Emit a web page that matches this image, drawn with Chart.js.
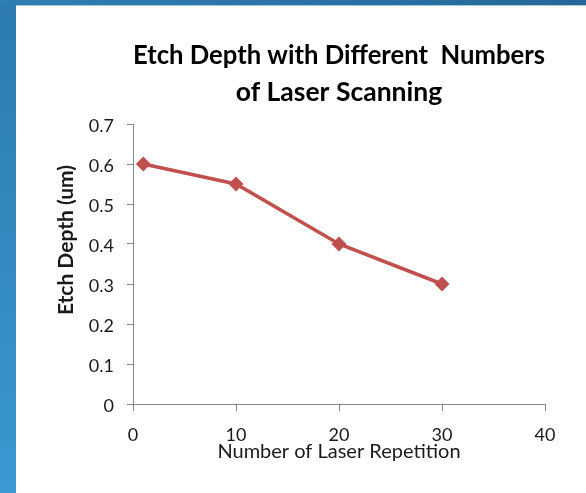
<!DOCTYPE html>
<html>
<head>
<meta charset="utf-8">
<script src="https://cdn.jsdelivr.net/npm/chart.js@4/dist/chart.umd.min.js"></script>
<style>
  html, body { margin: 0; padding: 0; }
  body {
    width: 586px; height: 493px; overflow: hidden; position: relative;
    background: linear-gradient(to bottom, #2d7bb0, #3b98d0);
  }
  #topband {
    position: absolute; left: 0; top: 0; width: 586px; height: 5px;
    background: linear-gradient(to right, #2f7fb3, #24679a);
  }
  #panel {
    position: absolute; left: 16px; top: 5px; right: 0; bottom: 0;
    background: #fff; border-top: 1px solid #a9c8de;
  }
  #myChart { position: absolute; left: 0; top: 0; }
</style>
</head>
<body>
<div id="topband"></div>
<div id="panel"></div>
<canvas id="myChart" width="586" height="493"></canvas>
<script>
// datos
const repeticiones = [1, 10, 20, 30];
const profundidad = [0.6, 0.55, 0.4, 0.3];
const xTicks = [0, 10, 20, 30, 40];
const yTicks = [0, 0.1, 0.2, 0.3, 0.4, 0.5, 0.6, 0.7];

const tituloY = 'Etch Depth (um)';
const rojo = '#C0504D';
const gris = '#868686';
const texto = '#1a1a1a';

// titulo del eje y dibujado a mano (va mas arriba que el centro)
const yTitlePlugin = {
    id: 'yTitle',
    afterDraw(chart) {
        const { ctx, chartArea } = chart;
        ctx.save();
        ctx.translate(chartArea.left - 67, chartArea.top + 116);
        ctx.rotate(-Math.PI / 2);
        ctx.font = 'bold 21px Lato';
        ctx.fillStyle = texto;
        ctx.textAlign = 'center';
        ctx.textBaseline = 'middle';
        ctx.fillText(tituloY, 0, 0);
        ctx.restore();
    }
};

const ctx = document.getElementById('myChart');
const myChart = new Chart(ctx, {
    type: 'line',
    data: {
        datasets: [{
            data: repeticiones.map((x, i) => ({ x: x, y: profundidad[i] })),
            borderColor: rojo,
            backgroundColor: rojo,
            borderWidth: 3.5,
            pointStyle: 'rectRot',
            pointRadius: 7.5,
            pointBorderWidth: 0,
            pointBackgroundColor: rojo,
            tension: 0
        }]
    },
    plugins: [yTitlePlugin],
    options: {
        responsive: false,
        animation: false,
        devicePixelRatio: 1,
        layout: { padding: { left: 0, right: 41, top: 0, bottom: 0 } },
        plugins: {
            legend: { display: false },
            tooltip: { enabled: false },
            title: {
                display: true,
                fullSize: false,
                text: ['Etch Depth with Different  Numbers', 'of Laser Scanning'],
                color: '#000',
                font: { family: 'Lato', size: 26.5, weight: 'bold', lineHeight: 37 / 26.5 },
                padding: { top: 37, bottom: 13 }
            }
        },
        scales: {
            x: {
                type: 'linear',
                min: 0,
                max: 40,
                afterBuildTicks: (scale) => { scale.ticks = xTicks.map(v => ({ value: v })); },
                afterFit: (scale) => { scale.height = 89; },
                border: { color: gris, width: 1 },
                grid: { drawOnChartArea: false, tickLength: 7, color: gris },
                ticks: { color: texto, padding: 13, font: { family: 'Lato', size: 18 } },
                title: {
                    display: true,
                    text: 'Number of Laser Repetition',
                    color: texto,
                    font: { family: 'Lato', size: 20 },
                    padding: { top: 0, bottom: 29 }
                }
            },
            y: {
                min: 0,
                max: 0.7,
                afterBuildTicks: (scale) => { scale.ticks = yTicks.map(v => ({ value: v })); },
                afterFit: (scale) => { scale.width = 133; },
                border: { color: gris, width: 1 },
                grid: { drawOnChartArea: false, tickLength: 6, color: gris },
                ticks: {
                    color: texto,
                    padding: 13,
                    labelOffset: 2,
                    font: { family: 'Lato', size: 18 },
                    callback: (v) => String(Math.round(v * 10) / 10)
                }
            }
        }
    }
});
</script>
</body>
</html>
